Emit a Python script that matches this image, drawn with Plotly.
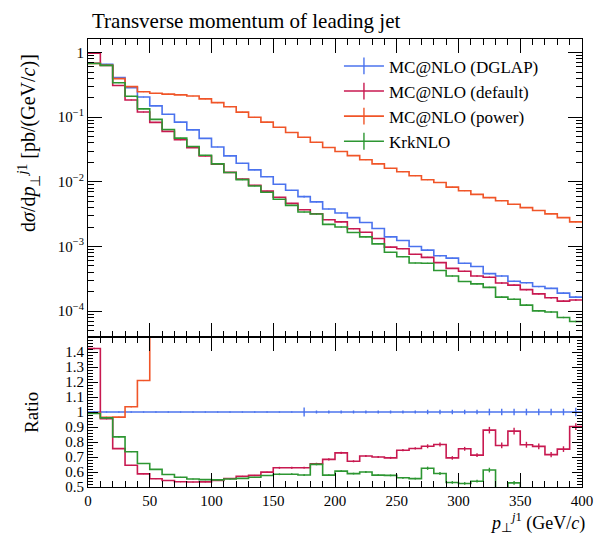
import numpy as np
import plotly.graph_objects as go

# Bin edges of the leading-jet pT histogram (GeV/c)
edges = np.arange(0, 410, 10)

# dsigma/dpT [pb/(GeV/c)] per 10 GeV bin
dglap = [0.685, 0.66, 0.41, 0.287, 0.205, 0.150, 0.111, 0.084, 0.0636, 0.047,
         0.0347, 0.0252, 0.0194, 0.0153, 0.012, 0.0092, 0.0074, 0.0059, 0.0049, 0.0038,
         0.0033, 0.0028, 0.00235, 0.0019, 0.00141, 0.00124, 0.00100, 0.00088, 0.00072, 0.00066,
         0.00055, 0.00049, 0.00038, 0.00035, 0.00029, 0.000275, 0.00024, 0.000225, 0.00019, 0.000165]
default = [0.975, 0.630, 0.310, 0.185, 0.1205, 0.0833, 0.0603, 0.0449, 0.0339, 0.0251,
           0.01884, 0.01404, 0.0111, 0.00884, 0.00719, 0.00578, 0.00465, 0.00371, 0.00321, 0.0026,
           0.0024, 0.00188, 0.00166, 0.00133, 0.000979, 0.000924, 0.000757, 0.000679, 0.000564, 0.000458,
           0.000415, 0.000349, 0.000334, 0.000272, 0.000253, 0.000215, 0.000185, 0.000161, 0.000143, 0.000149]
power = [0.68, 0.637, 0.396, 0.297, 0.248, 0.235, 0.228, 0.222, 0.213, 0.192,
         0.168, 0.145, 0.120, 0.100, 0.084, 0.070, 0.058, 0.049, 0.041, 0.034,
         0.0295, 0.0255, 0.022, 0.019, 0.0162, 0.0143, 0.0124, 0.0108, 0.0098, 0.0083,
         0.0073, 0.0064, 0.0057, 0.0051, 0.0045, 0.0040, 0.0036, 0.0032, 0.0028, 0.0024]
krknlo = [0.678, 0.634, 0.342, 0.211, 0.1347, 0.0926, 0.0647, 0.0475, 0.0352, 0.0258,
          0.019, 0.01394, 0.01081, 0.00864, 0.00692, 0.00538, 0.00433, 0.00342, 0.00319, 0.0022,
          0.002, 0.00165, 0.00141, 0.0011, 0.000814, 0.000696, 0.000556, 0.00055, 0.000425, 0.00035,
          0.000288, 0.000264, 0.000233, 0.000165, 0.000153, 0.000124, 0.000101, 0.0000968, 0.0000798, 0.0000693]

# Relative statistical uncertainties per bin
rel_err_dglap = [0.003] * 17 + [0.03] + [0.01] * 9 + [0.015] * 5 + [0.022] * 7 + [0.028]
rel_err_default = [0.003] * 15 + [0.01] * 12 + [0.017] * 5 + [0.025] * 8
rel_err_power = [0.003] * 40
rel_err_krknlo = [0.003] * 15 + [0.01] * 12 + [0.017] * 5 + [0.025] * 8

names = ["MC@NLO (DGLAP)", "MC@NLO (default)", "MC@NLO (power)", "KrkNLO"]
colors = ["rgb(75,115,238)", "rgb(200,25,80)", "rgb(240,85,40)", "rgb(45,150,50)"]

series = [dglap, default, power, krknlo]
errors = [rel_err_dglap, rel_err_default, rel_err_power, rel_err_krknlo]

FONT = "Liberation Serif"
centers = 0.5 * (edges[:-1] + edges[1:])
ref = np.array(dglap)

fig = go.Figure()


def add_hist(vals, rel, color, xa, ya):
    vals = np.asarray(vals, dtype=float)
    fig.add_trace(go.Scatter(
        x=edges, y=np.append(vals, vals[-1]), mode="lines", line_shape="hv",
        line=dict(color=color, width=1.6), showlegend=False, xaxis=xa, yaxis=ya,
        hoverinfo="skip"))
    fig.add_trace(go.Scatter(
        x=centers, y=vals, mode="markers", marker=dict(size=1, color=color),
        error_y=dict(type="data", array=vals * np.asarray(rel), width=0,
                     thickness=1.4, color=color),
        showlegend=False, xaxis=xa, yaxis=ya, hoverinfo="skip"))


for vals, rel, col in zip(series, errors, colors):
    add_hist(vals, rel, col, "x2", "y2")
    add_hist(np.asarray(vals) / ref, rel, col, "x", "y")

# legend entries: line with a vertical error tick
for name, col in zip(names, colors):
    fig.add_trace(go.Scatter(
        x=[None], y=[None], mode="lines+markers", name=name,
        line=dict(color=col, width=1.6),
        marker=dict(symbol="line-ns", size=12, line=dict(color=col, width=1.4)),
        xaxis="x2", yaxis="y2"))

split = (487 - 337) / 448.0

tick_common = dict(ticks="inside", showline=True, linecolor="black", linewidth=1,
                   mirror="allticks", tickcolor="black", showgrid=False, zeroline=False,
                   tickfont=dict(family=FONT, size=15, color="black"))

log_major = [1, 0.1, 0.01, 0.001, 0.0001]
log_minor = [m * 10.0 ** k for k in range(-5, 1) for m in range(2, 10)]

fig.update_layout(
    width=605, height=536,
    margin=dict(l=88, r=15, t=39, b=49),
    paper_bgcolor="white", plot_bgcolor="white",
    showlegend=True,
    legend=dict(x=0.508, y=0.979, xanchor="left", yanchor="top",
                bgcolor="rgba(0,0,0,0)", font=dict(family=FONT, size=17, color="black"),
                tracegroupgap=0, itemwidth=40),
    xaxis=dict(domain=[0, 1], range=[0, 400], anchor="y",
               tickvals=list(range(0, 401, 50)), ticklen=14, tickwidth=1,
               minor=dict(ticks="inside", dtick=10, ticklen=6, tickcolor="black"),
               **tick_common),
    xaxis2=dict(domain=[0, 1], range=[0, 400], anchor="y2", matches="x",
                showticklabels=False, tickvals=list(range(0, 401, 50)), ticklen=14,
                minor=dict(ticks="inside", dtick=10, ticklen=6, tickcolor="black"),
                **tick_common),
    yaxis=dict(domain=[0, split], range=[0.5, 1.5], anchor="x",
               tickvals=[0.5, 0.6, 0.7, 0.8, 0.9, 1.0, 1.1, 1.2, 1.3, 1.4],
               ticktext=["0.5", "0.6", "0.7", "0.8", "0.9", "1", "1.1", "1.2", "1.3", "1.4"],
               ticklen=10,
               minor=dict(ticks="inside", dtick=0.02, ticklen=5, tickcolor="black"),
               **tick_common),
    yaxis2=dict(domain=[split, 1], type="log", range=[-4.40, 0.21], anchor="x2",
                tickvals=log_major,
                ticktext=["1", "10<sup>−1</sup>", "10<sup>−2</sup>", "10<sup>−3</sup>", "10<sup>−4</sup>"],
                ticklen=14,
                minor=dict(ticks="inside", tickmode="array", tickvals=log_minor,
                           ticklen=6, tickcolor="black"),
                **tick_common),
)

fig.add_annotation(text="Transverse momentum of leading jet", xref="paper", yref="paper",
                   x=0.004, y=1 + (39 - 21) / 448.0, xanchor="left", yanchor="middle",
                   showarrow=False, font=dict(family=FONT, size=21, color="black"))
fig.add_annotation(text="d<i>σ</i>/d<i>p</i><sub>⊥</sub><sup><i>j</i>1</sup> [pb/(GeV/<i>c</i>)]",
                   xref="paper", yref="paper", x=(28 - 88) / 502.0, y=(487 - 143) / 448.0,
                   textangle=-90, xanchor="center", yanchor="middle", showarrow=False,
                   font=dict(family=FONT, size=20, color="black"))
fig.add_annotation(text="Ratio", xref="paper", yref="paper", x=(30 - 88) / 502.0,
                   y=(487 - 412) / 448.0, textangle=-90, xanchor="center", yanchor="middle",
                   showarrow=False, font=dict(family=FONT, size=19, color="black"))
fig.add_annotation(text="<i>p</i><sub>⊥</sub><sup><i>j</i>1</sup> (GeV/<i>c</i>)",
                   xref="paper", yref="paper", x=1 + 5 / 502.0, y=(487 - 522) / 448.0,
                   xanchor="right", yanchor="middle", showarrow=False,
                   font=dict(family=FONT, size=18, color="black"))

fig.write_html("out.html")
